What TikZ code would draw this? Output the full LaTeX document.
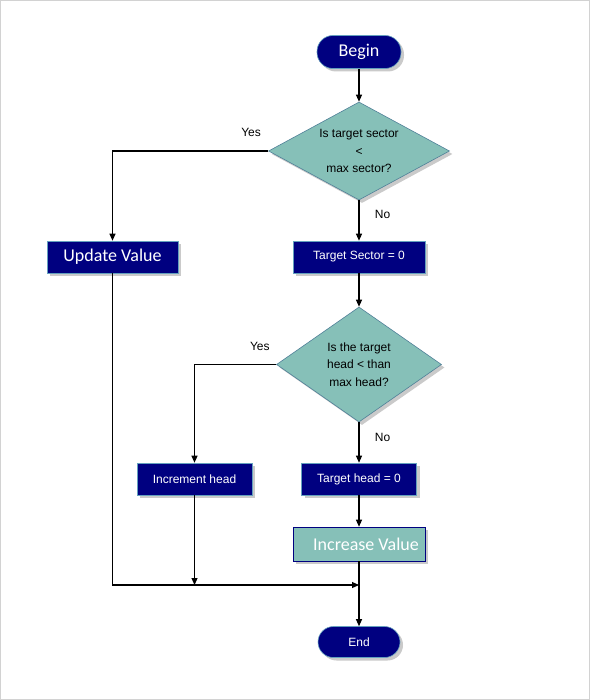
\documentclass[tikz,border=0pt]{standalone}
\usepackage{fontspec}
\setmainfont{Liberation Sans}
\newfontfamily\calfont{Carlito}
\usetikzlibrary{shapes.geometric,shadows,arrows.meta,positioning}
\definecolor{navy}{RGB}{0,0,128}
\definecolor{seagreen}{RGB}{134,192,184}
\definecolor{edgeblue}{RGB}{100,160,190}
\tikzset{
  shade/.style={drop shadow={shadow xshift=3pt, shadow yshift=-3pt, fill=gray!70, opacity=0.6}},
  terminal/.style={rectangle, rounded corners=16pt, fill=navy, draw=edgeblue, text=white,
    line width=0.6pt, minimum width=84pt, minimum height=32pt, inner sep=0pt, shade},
  process/.style={rectangle, fill=navy, draw=edgeblue, text=white,
    line width=0.6pt, minimum height=32pt, inner sep=0pt, shade},
  decision/.style={diamond, aspect=1.85, fill=seagreen, draw=edgeblue!80!black, inner sep=0pt,
    line width=0.6pt, align=center, font=\fontsize{12}{17.5}\selectfont, shade},
  big/.style={font=\calfont\fontsize{18}{20}\selectfont},
  small/.style={font=\fontsize{12}{14}\selectfont}
}
\begin{document}
\begin{tikzpicture}[x=1pt, y=-1pt, line width=1.1pt, >={Triangle[length=7pt,width=6pt]}]
  \useasboundingbox (0,0) rectangle (590,700);
  \draw[gray!35, line width=1pt] (0.5,0.5) rectangle (589.5,699.5);

  \node[terminal, big, minimum height=33pt] (1) at (359,52) {Begin};
  \node[decision, minimum width=181pt, minimum height=98pt] (2) at (359,151) {Is target sector\\<\\max sector?};
  \node[process, big, minimum width=131pt] (3) at (112.5,257) {Update Value};
  \node[process, small, minimum width=132pt] (4) at (359,257) {Target Sector = 0};
  \node[decision, minimum width=165pt, minimum height=115pt] (5) at (359,364.5) {Is the target\\head < than\\max head?};
  \node[process, small, minimum width=115pt] (6) at (194.5,479) {Increment head};
  \node[process, small, minimum width=115pt] (7) at (359,479) {Target head = 0};
  \node[process, big, fill=seagreen, draw=navy, minimum width=132pt, minimum height=34pt] (8) at (359,544) {\hspace{14pt}Increase Value};
  \node[terminal, small, minimum width=82pt, minimum height=31pt, rounded corners=15.5pt] (9) at (359,642) {End};
  \coordinate (10) at (359,585);

  \draw[->] (1) -- (2);
  \draw[->] (2.west) -| node[pos=0.055, above=10pt, small] {Yes} (3);
  \draw[->] (2) -- node[pos=0.34, right=12pt, small] {No} (4);
  \draw[->] (4) -- (5);
  \draw[->] (5.west) -| node[pos=0.1, above=10pt, small] {Yes} (6);
  \draw[->] (5) -- node[pos=0.37, right=12pt, small] {No} (7);
  \draw[->] (7) -- (8);
  \draw[->] (3) |- (10);
  \draw[->] (6) -- (6 |- 10);
  \draw[->] (8) -- (9);
\end{tikzpicture}
\end{document}
